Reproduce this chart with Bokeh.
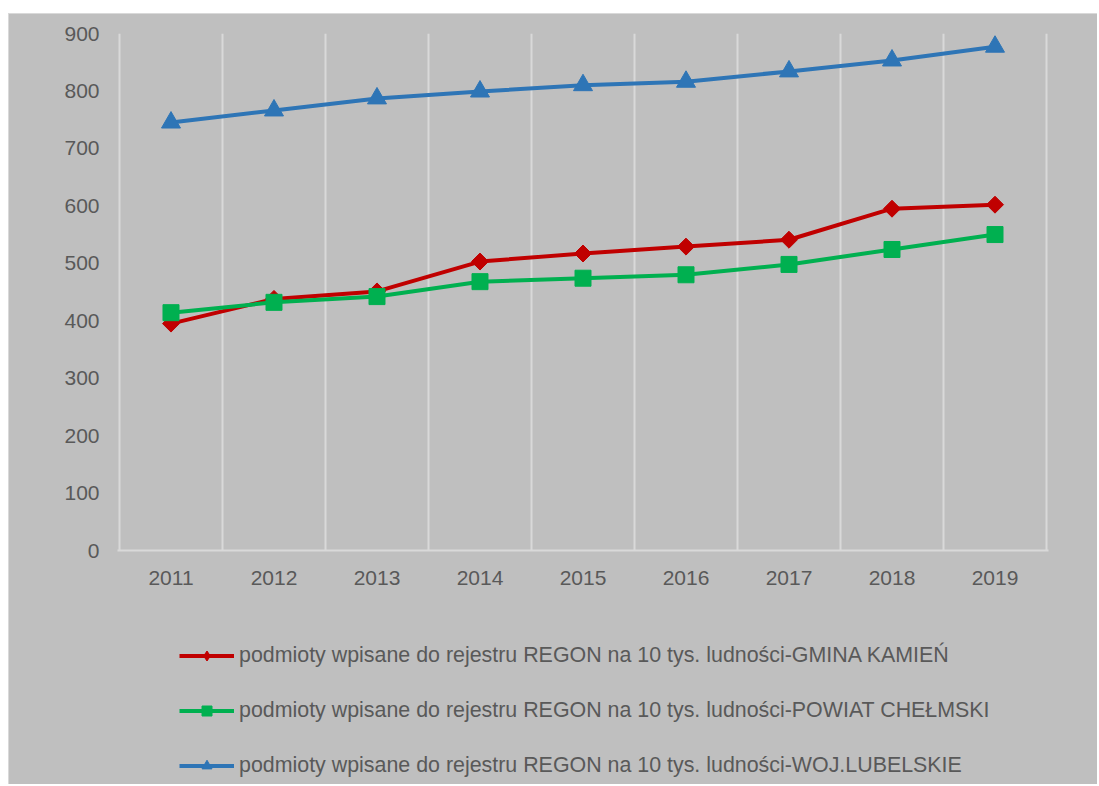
from bokeh.plotting import figure
from bokeh.models import FixedTicker, Legend, LegendItem, Range1d, Spacer
from bokeh.layouts import column, row
from bokeh.embed import file_html
from bokeh.resources import INLINE
import math

years = [2011, 2012, 2013, 2014, 2015, 2016, 2017, 2018, 2019]
gmina_kamien = [395, 438, 451, 503, 517, 529, 541, 595, 602]
powiat_chelmski = [414, 432, 442, 468, 474, 480, 498, 524, 550]
woj_lubelskie = [745, 766, 787, 799, 810, 816, 834, 853, 877]
y_ticks = [0, 100, 200, 300, 400, 500, 600, 700, 800, 900]
labels = [
    "podmioty wpisane do rejestru REGON na 10 tys. ludności-GMINA KAMIEŃ",
    "podmioty wpisane do rejestru REGON na 10 tys. ludności-POWIAT CHEŁMSKI",
    "podmioty wpisane do rejestru REGON na 10 tys. ludności-WOJ.LUBELSKIE",
]

BG = "#bfbfbf"
GRID = "#d9d9d9"
TXT = "#595959"
FONT = "Liberation Sans"
red, green, blue = "#c00000", "#00b050", "#2e75b6"

W = 1088
H1 = 595
H2 = 175
EPS = 0.0194  # small extra so that the edge grid lines are not clipped

p = figure(width=W, height=H1, output_backend="svg", toolbar_location=None,
           x_range=Range1d(years[0] - 0.5 - EPS, years[-1] + 0.5 + EPS),
           y_range=Range1d(0, 900),
           min_border_left=108, min_border_right=49,
           min_border_top=19, min_border_bottom=59)
p.background_fill_alpha = 0
p.border_fill_color = BG
p.outline_line_color = None

# axes
p.xaxis.ticker = FixedTicker(ticks=years)
p.yaxis.ticker = FixedTicker(ticks=y_ticks)
for ax in (p.xaxis[0], p.yaxis[0]):
    ax.major_tick_line_color = None
    ax.minor_tick_line_color = None
    ax.major_tick_out = 0
    ax.major_tick_in = 0
    ax.major_label_text_color = TXT
    ax.major_label_text_font = FONT
    ax.major_label_text_font_size = "21px"
p.yaxis.axis_line_color = None
p.yaxis.major_label_standoff = 18
p.xaxis.axis_line_color = GRID
p.xaxis.axis_line_width = 2
p.xaxis.major_label_standoff = 20

# grid: vertical lines at category boundaries only
p.ygrid.grid_line_color = None
p.xgrid.ticker = FixedTicker(ticks=[y - 0.5 for y in years] + [years[-1] + 0.5])
p.xgrid.grid_line_color = GRID
p.xgrid.grid_line_width = 2

p.line(years, gmina_kamien, line_color=red, line_width=4)
p.scatter(years, gmina_kamien, marker="square", angle=math.pi / 4, size=12,
          fill_color=red, line_color=red)
p.line(years, powiat_chelmski, line_color=green, line_width=4)
p.scatter(years, powiat_chelmski, marker="square", size=16,
          fill_color=green, line_color=green)
p.line(years, woj_lubelskie, line_color=blue, line_width=4)
p.scatter(years, woj_lubelskie, marker="triangle", size=19,
          fill_color=blue, line_color=blue)

# legend panel (separate figure below, so that the legend is not clipped);
# its series lie outside its ranges, only their legend keys are shown
q = figure(width=W, height=H2, output_backend="svg", toolbar_location=None,
           x_axis_type=None, y_axis_type=None,
           x_range=Range1d(0, 1), y_range=Range1d(0, 1), min_border=0)
q.background_fill_alpha = 0
q.border_fill_color = BG
q.outline_line_color = None
q.xgrid.visible = False
q.ygrid.visible = False

k1 = q.line(years, gmina_kamien, line_color=red, line_width=4)
n1 = q.scatter(years, gmina_kamien, marker="diamond", fill_color=red, line_color=red)
k2 = q.line(years, powiat_chelmski, line_color=green, line_width=4)
n2 = q.scatter(years, powiat_chelmski, marker="square", fill_color=green, line_color=green)
k3 = q.line(years, woj_lubelskie, line_color=blue, line_width=4)
n3 = q.scatter(years, woj_lubelskie, marker="triangle", fill_color=blue, line_color=blue)

legend = Legend(items=[
    LegendItem(label=labels[0], renderers=[k1, n1]),
    LegendItem(label=labels[1], renderers=[k2, n2]),
    LegendItem(label=labels[2], renderers=[k3, n3]),
], location=(62, 6))
legend.background_fill_alpha = 0
legend.border_line_color = None
legend.padding = 0
legend.margin = 0
legend.glyph_width = 55
legend.glyph_height = 25
legend.label_standoff = 5
legend.spacing = 30
legend.label_text_font = FONT
legend.label_text_font_size = "21.4px"
legend.label_text_color = TXT
q.add_layout(legend)

inner = column(p, q, spacing=0,
               styles={"background-color": BG,
                       "border-top": "1px solid " + GRID,
                       "border-left": "1px solid " + GRID})
layout = column(Spacer(height=13, width=W + 9),
                row(Spacer(width=8, height=H1 + H2), inner, spacing=0),
                spacing=0)
open("out.html", "w").write(file_html(layout, INLINE))
